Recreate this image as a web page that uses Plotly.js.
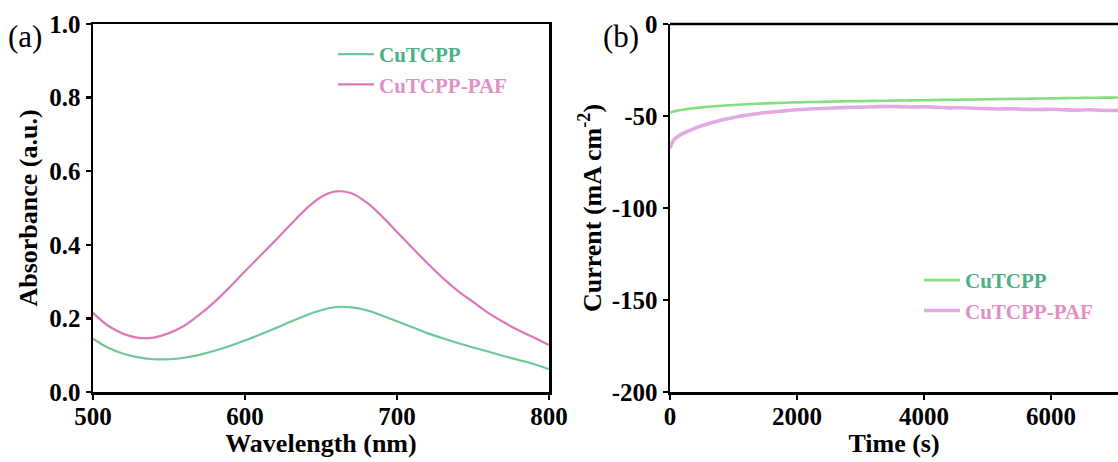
<!DOCTYPE html>
<html>
<head>
<meta charset="utf-8">
<script src="https://cdn.plot.ly/plotly-3.0.1.min.js"></script>
<style>html,body{margin:0;padding:0;background:#fff;}#chart{width:1118px;height:462px;}</style>
</head>
<body>
<div id="chart"></div>
<script>
// ---- Panel (a): UV-vis absorbance ----
const wavelength = [500,510,520,530,540,550,560,570,580,590,600,610,620,630,640,650,660,670,680,690,700,710,720,730,740,750,760,770,780,790,800];
const absCuTCPP = [0.145,0.120,0.104,0.094,0.089,0.089,0.093,0.101,0.112,0.125,0.140,0.156,0.173,0.191,0.208,0.222,0.231,0.230,0.222,0.208,0.192,0.176,0.160,0.146,0.133,0.121,0.110,0.098,0.087,0.076,0.062];
const absPAF = [0.215,0.180,0.158,0.147,0.148,0.160,0.180,0.210,0.245,0.285,0.328,0.370,0.412,0.455,0.497,0.530,0.545,0.540,0.515,0.478,0.435,0.392,0.350,0.310,0.275,0.245,0.215,0.190,0.168,0.148,0.128];

// ---- Panel (b): chronoamperometry ----
const timeS = [0,20,50,100,150,200,300,400,500,600,700,800,900,1000,1200,1400,1600,1800,2000,2200,2400,2600,2800,3000,3200,3400,3600,3800,4000,4200,4400,4600,4800,5000,5200,5400,5600,5800,6000,6200,6400,6600,6800,7000,7100];
const curCuTCPP = [-48.5,-48.0,-47.6,-47.2,-46.9,-46.6,-46.1,-45.7,-45.3,-45.0,-44.7,-44.4,-44.2,-44.0,-43.6,-43.3,-43.0,-42.8,-42.6,-42.4,-42.3,-42.1,-42.0,-41.9,-41.8,-41.7,-41.6,-41.5,-41.4,-41.3,-41.2,-41.1,-41.0,-40.9,-40.8,-40.7,-40.6,-40.5,-40.4,-40.3,-40.2,-40.1,-40.0,-40.0,-39.9];
const curPAF = [-67.5,-65.5,-63.5,-61.8,-60.6,-59.6,-58.0,-56.5,-55.3,-54.2,-53.2,-52.3,-51.5,-50.8,-49.6,-48.6,-47.8,-47.2,-46.6,-46.2,-45.9,-45.6,-45.3,-45.2,-45.0,-44.8,-44.9,-45.1,-45.0,-45.3,-45.6,-45.5,-45.8,-46.0,-46.2,-46.1,-46.4,-46.5,-46.3,-46.6,-46.8,-46.6,-46.9,-47.0,-46.9];

const seriesNames = ['CuTCPP','CuTCPP-PAF'];
const xTicksA = [500,600,700,800];
const yTicksA = [0.0,0.2,0.4,0.6,0.8,1.0];
const xTicksB = [0,2000,4000,6000];
const yTicksB = [0,-50,-100,-150,-200];

const FONT = 'Liberation Serif, Times New Roman, serif';
const textGreen = '#4caf87';
const textPink = '#e38fc6';
const lab = (t,c) => '<span style="color:'+c+'">'+t+'</span>';

const traces = [
  {x: wavelength, y: absCuTCPP, type:'scatter', mode:'lines', name: lab(seriesNames[0],textGreen),
   line:{color:'#6cc995', width:2.2, shape:'spline', smoothing:1}, xaxis:'x', yaxis:'y', legend:'legend'},
  {x: wavelength, y: absPAF, type:'scatter', mode:'lines', name: lab(seriesNames[1],textPink),
   line:{color:'#de78b6', width:2.2, shape:'spline', smoothing:1}, xaxis:'x', yaxis:'y', legend:'legend'},
  {x: timeS, y: curCuTCPP, type:'scatter', mode:'lines', name: lab(seriesNames[0],textGreen),
   line:{color:'#84e07c', width:2.6, shape:'spline', smoothing:1}, xaxis:'x2', yaxis:'y2', legend:'legend2'},
  {x: timeS, y: curPAF, type:'scatter', mode:'lines', name: lab(seriesNames[1],textPink),
   line:{color:'#e3a9e3', width:3.6, shape:'spline', smoothing:1}, xaxis:'x2', yaxis:'y2', legend:'legend2'}
];

const tickFont = {family: FONT, size: 25, color:'#000', weight:'bold'};
const titleFont = {family: FONT, size: 26, color:'#000', weight:'bold'};
const axBase = {showgrid:false, zeroline:false, showline:true, linecolor:'#000', linewidth:2.5,
  ticks:'outside', ticklen:5, tickwidth:2.5, tickcolor:'#000'};

const H = 462, W = 1118;
const yDom = [1-392/H, 1-24/H];

const layout = {
  width: W, height: H, margin:{l:0,r:0,t:0,b:0},
  paper_bgcolor:'#fff', plot_bgcolor:'#fff', showlegend:true,
  xaxis: Object.assign({}, axBase, {domain:[93/W, 549/W], range:[500,800], tickvals:xTicksA, ticktext:xTicksA.map(String),
     tickfont: tickFont, ticklabelstandoff:-5, mirror:true, anchor:'y', title:{text:'Wavelength (nm)', font:titleFont, standoff:3}}),
  yaxis: Object.assign({}, axBase, {domain:yDom, range:[0,1], tickvals:yTicksA, ticktext:yTicksA.map(v=>v.toFixed(1)),
     tickfont: tickFont, mirror:true, anchor:'x', title:{text:'Absorbance (a.u.)', font:titleFont, standoff:4}}),
  xaxis2: Object.assign({}, axBase, {domain:[670/W, 1], range:[0,7055], tickvals:xTicksB, ticktext:xTicksB.map(String),
     tickfont: tickFont, ticklabelstandoff:-5, anchor:'y2', title:{text:'Time (s)', font:titleFont, standoff:3}}),
  yaxis2: Object.assign({}, axBase, {domain:yDom, range:[-200,0], tickvals:yTicksB, ticktext:yTicksB.map(String),
     tickfont: tickFont, anchor:'x2', title:{text:'Current (mA cm<sup>-2</sup>)', font:titleFont, standoff:3}}),
  legend: {x:333/W, y:1-34/H, xanchor:'left', yanchor:'top', bgcolor:'rgba(0,0,0,0)', borderwidth:0,
     font:{family:FONT, size:21, weight:'bold'}, itemwidth:36, tracegroupgap:0},
  legend2: {x:919/W, y:1-260/H, xanchor:'left', yanchor:'top', bgcolor:'rgba(0,0,0,0)', borderwidth:0,
     font:{family:FONT, size:21, weight:'bold'}, itemwidth:36, tracegroupgap:0},
  shapes: [
    {type:'line', xref:'paper', yref:'paper', x0:670/W, x1:1, y0:yDom[1], y1:yDom[1], line:{color:'#000', width:2.5}}
  ],
  annotations: [
    {text:'(a)', xref:'paper', yref:'paper', x:6/W, y:1-36/H, xanchor:'left', yanchor:'middle', showarrow:false,
     font:{family:FONT, size:31, color:'#000'}},
    {text:'(b)', xref:'paper', yref:'paper', x:601/W, y:1-36/H, xanchor:'left', yanchor:'middle', showarrow:false,
     font:{family:FONT, size:31, color:'#000'}}
  ]
};

Plotly.newPlot('chart', traces, layout, {staticPlot:true, displayModeBar:false});
</script>
</body>
</html>
